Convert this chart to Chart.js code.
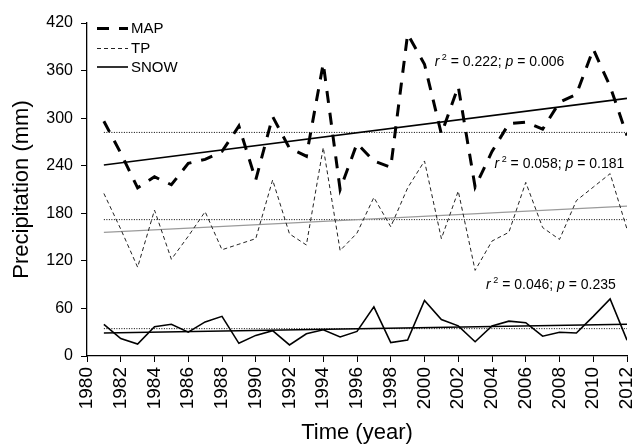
<!DOCTYPE html>
<html>
<head>
<meta charset="utf-8">
<script src="https://cdn.jsdelivr.net/npm/chart.js@4.4.0/dist/chart.umd.min.js"></script>
<style>
  html, body { margin: 0; padding: 0; background: #fff; }
  #wrap { width: 633px; height: 446px; }
</style>
</head>
<body>
<div id="wrap"><canvas id="precipChart"></canvas></div>
<script>
// Annual precipitation series (mm)
const years = [1981, 1982, 1983, 1984, 1985, 1986, 1987, 1988, 1989, 1990,
  1991, 1992, 1993, 1994, 1995, 1996, 1997, 1998, 1999, 2000,
  2001, 2002, 2003, 2004, 2005, 2006, 2007, 2008, 2009, 2010, 2011, 2012];
const mapValues = [296, 256, 212, 226, 216, 243, 248, 258, 290, 222,
  302, 262, 252, 369, 210, 268, 246, 238, 406, 368,
  280, 340, 213, 258, 293, 295, 286, 320, 330, 387, 340, 278];
const tpValues = [205, 160, 112, 184, 122, 151, 182, 134, 141, 148,
  222, 154, 140, 263, 133, 155, 200, 163, 212, 246,
  148, 208, 108, 145, 156, 219, 162, 147, 196, 213, 230, 160];
const snowValues = [40, 22, 15, 37, 40, 30, 43, 50, 16, 26,
  32, 14, 28, 33, 24, 31, 62, 17, 20, 70,
  46, 38, 18, 38, 44, 42, 25, 30, 29, 50, 72, 20];

// linear trends (start/end values) and series means
const trendYears = [1981, 2012];
const mapTrend = [241, 325];
const tpTrend = [156, 189];
const snowTrend = [29, 40];
const mapMean = 282;
const tpMean = 172;
const snowMean = 34.5;

const fitR2 = ["0.222", "0.058", "0.046"];
const fitP = ["0.006", "0.181", "0.235"];

const yTicks = [0, 60, 120, 180, 240, 300, 360, 420];

const FONT = "'Liberation Sans', Arial, sans-serif";

function pts(xs, ys) {
  return xs.map((x, i) => ({ x: x, y: ys[i] }));
}
function flat(v) {
  return pts(trendYears, [v, v]);
}

// Legend drawn inside the plot, top-left
const insideLegend = {
  id: "insideLegend",
  afterDraw(chart) {
    const ctx = chart.ctx;
    const area = chart.chartArea;
    const items = chart.data.datasets.filter((d) => d.inLegend);
    const x0 = area.left + 10;
    const rows = [5.5, 25.5, 44];
    ctx.save();
    items.forEach((ds, i) => {
      const y = area.top + rows[i];
      ctx.beginPath();
      ctx.setLineDash(ds.borderDash || []);
      ctx.lineWidth = ds.borderWidth;
      ctx.strokeStyle = ds.borderColor;
      ctx.moveTo(x0, y);
      ctx.lineTo(x0 + 31, y);
      ctx.stroke();
      ctx.setLineDash([]);
      ctx.fillStyle = "#000";
      ctx.font = "15px " + FONT;
      ctx.textBaseline = "middle";
      ctx.fillText(ds.label, x0 + 34, y + 0.5);
    });
    ctx.restore();
  },
};

// r^2 / p annotations, anchored in data coordinates
const fitNotes = {
  id: "fitNotes",
  afterDraw(chart) {
    const ctx = chart.ctx;
    const xs = chart.scales.x;
    const ys = chart.scales.y;
    const anchors = [[2000.6, 366], [2004.15, 237], [2003.65, 85]];
    ctx.save();
    ctx.fillStyle = "#000";
    ctx.textBaseline = "alphabetic";
    ctx.textAlign = "left";
    anchors.forEach((a, i) => {
      let x = xs.getPixelForValue(a[0]);
      const y = ys.getPixelForValue(a[1]);
      const parts = [
        ["italic 14px " + FONT, "r", 0],
        ["9px " + FONT, " 2", -6],
        ["14px " + FONT, " = " + fitR2[i] + "; ", 0],
        ["italic 14px " + FONT, "p", 0],
        ["14px " + FONT, " = " + fitP[i], 0],
      ];
      parts.forEach((p) => {
        ctx.font = p[0];
        ctx.fillText(p[1], x, y + p[2]);
        x += ctx.measureText(p[1]).width;
      });
    });
    ctx.restore();
  },
};

new Chart(document.getElementById("precipChart"), {
  type: "line",
  data: {
    datasets: [
      {
        label: "MAP",
        inLegend: true,
        data: pts(years, mapValues),
        borderColor: "#000",
        borderWidth: 3,
        borderDash: [12, 10],
      },
      {
        label: "TP",
        inLegend: true,
        data: pts(years, tpValues),
        borderColor: "#222",
        borderWidth: 1,
        borderDash: [4, 3],
      },
      {
        label: "SNOW",
        inLegend: true,
        data: pts(years, snowValues),
        borderColor: "#000",
        borderWidth: 1.6,
      },
      { label: "MAP trend", data: pts(trendYears, mapTrend), borderColor: "#000", borderWidth: 1.6 },
      { label: "TP trend", data: pts(trendYears, tpTrend), borderColor: "#9a9a9a", borderWidth: 1.2 },
      { label: "SNOW trend", data: pts(trendYears, snowTrend), borderColor: "#000", borderWidth: 1.4 },
      { label: "MAP mean", data: flat(mapMean), borderColor: "#000", borderWidth: 1, borderDash: [1, 1.5] },
      { label: "TP mean", data: flat(tpMean), borderColor: "#000", borderWidth: 1, borderDash: [1, 1.5] },
      { label: "SNOW mean", data: flat(snowMean), borderColor: "#000", borderWidth: 1, borderDash: [1, 1.5] },
    ],
  },
  options: {
    responsive: true,
    maintainAspectRatio: false,
    animation: false,
    devicePixelRatio: 1,
    layout: { padding: { top: 23, right: 6, left: 0, bottom: 0 } },
    elements: {
      point: { radius: 0 },
      line: { tension: 0, fill: false, borderCapStyle: "butt" },
    },
    plugins: {
      legend: { display: false },
      tooltip: { enabled: false },
    },
    scales: {
      x: {
        type: "linear",
        min: 1980,
        max: 2012,
        afterFit(scale) {
          scale.height = 90;
          scale.paddingLeft = 0;
          scale.paddingRight = 0;
        },
        ticks: {
          stepSize: 2,
          autoSkip: false,
          minRotation: 90,
          maxRotation: 90,
          padding: 5,
          color: "#000",
          font: { family: FONT, size: 19 },
          callback: (v) => String(v),
        },
        grid: { drawOnChartArea: false, tickLength: 6, color: "#000", lineWidth: 1 },
        border: { display: true, color: "#000", width: 1.3 },
        title: {
          display: true,
          text: "Time (year)",
          color: "#000",
          font: { family: FONT, size: 22 },
          padding: { top: 0, bottom: 0 },
        },
      },
      y: {
        min: 0,
        max: 420,
        afterFit(scale) {
          scale.width = 87;
        },
        afterBuildTicks(scale) {
          scale.ticks = yTicks.map((v) => ({ value: v }));
        },
        ticks: {
          padding: 8,
          color: "#000",
          font: { family: FONT, size: 16 },
        },
        grid: { drawOnChartArea: false, tickLength: 6, color: "#000", lineWidth: 1 },
        border: { display: true, color: "#000", width: 1.3 },
        title: {
          display: true,
          text: "Precipitation (mm)",
          color: "#000",
          font: { family: FONT, size: 22 },
          padding: { top: 9, bottom: 0 },
        },
      },
    },
  },
  plugins: [insideLegend, fitNotes],
});
</script>
</body>
</html>
